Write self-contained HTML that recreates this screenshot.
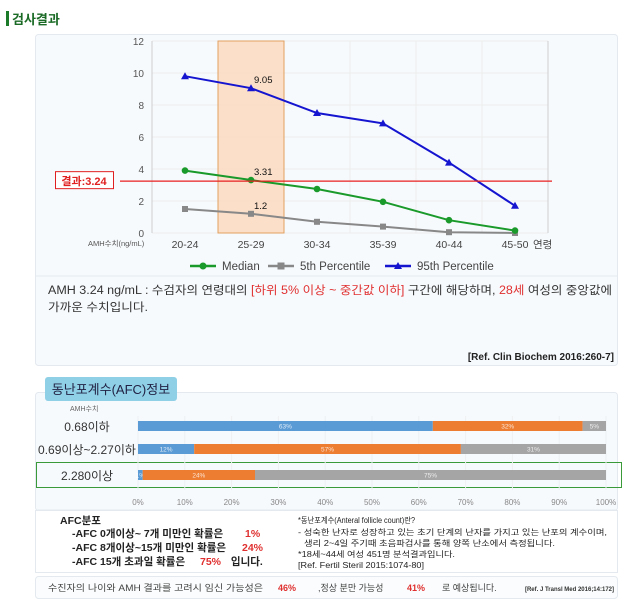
<!DOCTYPE html>
<html><head><meta charset="utf-8"><style>
body{margin:0;background:#fff;}
svg{display:block;font-family:"Liberation Sans","Noto Sans CJK KR",sans-serif;}
</style></head><body>
<svg width="631" height="607" viewBox="0 0 631 607">
<rect x="6" y="11" width="3" height="15" fill="#1a7a2a"/>
<text x="12" y="24" font-size="13" font-weight="bold" fill="#1a6a25">검사결과</text>
<rect x="35.5" y="34.5" width="582" height="331" fill="#f7fafd" stroke="#e3e9ef" rx="3"/>
<g id="chart"></g>
<line x1="36" y1="276" x2="617" y2="276" stroke="#e3e9ef"/>
<text x="48" y="294" font-size="11.5" fill="#333" textLength="564" lengthAdjust="spacingAndGlyphs">AMH  3.24 ng/mL : 수검자의 연령대의 <tspan fill="#e03030">[하위 5% 이상 ~ 중간값 이하]</tspan> 구간에 해당하며, <tspan fill="#e03030">28세</tspan> 여성의 중앙값에</text>
<text x="48" y="311" font-size="11.5" fill="#333" textLength="100" lengthAdjust="spacingAndGlyphs">가까운 수치입니다.</text>
<text x="614" y="360" font-size="10" font-weight="bold" fill="#222" text-anchor="end">[Ref. Clin Biochem 2016:260-7]</text>

<rect x="35.5" y="392.5" width="582" height="118" fill="#f7fafd" stroke="#e3e9ef" rx="3"/>
<rect x="45" y="377" width="132" height="24" fill="#8fd0e6" rx="3"/>
<text x="111" y="394" font-size="13" fill="#224" text-anchor="middle">동난포계수(AFC)정보</text>
<text x="70" y="411" font-size="7" fill="#666">AMH수치</text>
<rect x="36.5" y="462.5" width="585" height="25" fill="none" stroke="#3a9a3a"/>
<g id="bars"></g>
<line x1="36" y1="510" x2="617" y2="510" stroke="#e3e9ef"/>
<rect x="35.5" y="510.5" width="582" height="62" fill="#fff" stroke="#e3e9ef"/>
<g font-size="10.5" font-weight="bold" fill="#222">
<text x="60" y="524">AFC분포</text>
<text x="72" y="537">-AFC  0개이상~ 7개 미만인 확률은 <tspan x="245" fill="#e03030">1%</tspan></text>
<text x="72" y="551">-AFC  8개이상~15개 미만인 확률은 <tspan x="242" fill="#e03030">24%</tspan></text>
<text x="72" y="565">-AFC  15개 초과일 확률은 <tspan x="200" fill="#e03030">75%</tspan><tspan x="228"> 입니다.</tspan></text>
</g>
<g font-size="8" fill="#222">
<text x="298" y="523" textLength="117" lengthAdjust="spacingAndGlyphs">*동난포계수(Anteral follicle count)란?</text>
<text x="298" y="535" textLength="309" lengthAdjust="spacingAndGlyphs">- 성숙한 난자로 성장하고 있는 초기 단계의 난자를 가지고 있는 난포의 계수이며,</text>
<text x="304" y="546" textLength="251" lengthAdjust="spacingAndGlyphs">생리 2~4일 주기때 초음파검사를 통해 양쪽 난소에서 측정됩니다.</text>
<text x="298" y="557" textLength="157" lengthAdjust="spacingAndGlyphs">*18세~44세 여성 451명 분석결과입니다.</text>
<text x="298" y="568" textLength="126" lengthAdjust="spacingAndGlyphs">[Ref. Fertil Steril 2015:1074-80]</text>
</g>
<rect x="35.5" y="576.5" width="582" height="22" fill="#fafcfd" stroke="#e3e9ef" rx="3"/>
<text x="48" y="591" font-size="9" fill="#444"><tspan textLength="215" lengthAdjust="spacingAndGlyphs">수진자의  나이와 AMH 결과를 고려시 임신 가능성은</tspan><tspan x="278" fill="#e03030" font-weight="bold">46%</tspan><tspan x="318">,정상 분만 가능성</tspan><tspan x="407" fill="#e03030" font-weight="bold">41%</tspan><tspan x="442">로 예상됩니다.</tspan></text>
<text x="614" y="591" font-size="6" font-weight="bold" fill="#333" text-anchor="end">[Ref. J Transl Med 2016;14:172]</text>
</svg>
<script>
const categories=["20-24","25-29","30-34","35-39","40-44","45-50"];
const median=[3.9,3.31,2.75,1.95,0.8,0.15];
const p5=[1.5,1.2,0.7,0.4,0.05,0.0];
const p95=[9.8,9.05,7.5,6.85,4.4,1.7];
const yTicks=[0,2,4,6,8,10,12];
const resultValue=3.24;
const highlightIndex=1;
const afcRows=["0.68이하","0.69이상~2.27이하","2.280이상"];
const afcLow=[63,12,1];
const afcMid=[32,57,24];
const afcHigh=[5,31,75];
const pctTicks=[0,10,20,30,40,50,60,70,80,90,100];

const NS="http://www.w3.org/2000/svg";
function mk(p,t,a){const e=document.createElementNS(NS,t);for(const k in a)e.setAttribute(k,a[k]);p.appendChild(e);return e;}
const g=document.getElementById('chart');
const X0=152,X1=548,Y0=233,Y1=41;
const bw=(X1-X0)/categories.length;
const xs=i=>X0+bw*(i+0.5);
const ys=v=>Y0-(v/12)*(Y0-Y1);
yTicks.forEach(t=>{
 const l=mk(g,'line',{x1:X0,x2:X1,y1:ys(t),y2:ys(t),stroke:'#ececec'});
 
 
 const tx=mk(g,'text',{x:X0-8,y:ys(t)+4,'font-size':10,fill:'#555','text-anchor':'end'});tx.textContent=t;
 
 
});
for(let i=0;i<=categories.length;i++){
 const l=mk(g,'line',{x1:X0+bw*i,x2:X0+bw*i,y1:Y1,y2:Y0,stroke:i==0||i==categories.length?'#cfcfcf':'#ececec'});
 
 
}
const band=mk(g,'rect',{x:X0+bw*highlightIndex,y:Y1,width:bw,height:Y0-Y1,fill:'#fbd9c0','fill-opacity':0.85,stroke:'#e0a060'});


categories.forEach((c,i)=>{
 const t=mk(g,'text',{x:xs(i),y:248,'font-size':10.5,fill:'#444','text-anchor':'middle'});t.textContent=c;
 
 
});
let t=mk(g,'text',{x:88,y:246,'font-size':7.5,fill:'#555'});t.textContent='AMH수치(ng/mL)';


t=mk(g,'text',{x:533,y:248,'font-size':10.5,fill:'#444'});t.textContent='연령';


function series(vals,color,shape,name){
 const pl=mk(g,'polyline',{points:vals.map((v,i)=>xs(i)+','+ys(v)).join(' '),fill:'none',stroke:color,'stroke-width':2});
 
 
 vals.forEach((v,i)=>{
  let m;const x=xs(i),y=ys(v);
  if(shape=='c')m=mk(g,'circle',{cx:x,cy:y,r:3.3,fill:color});
  else if(shape=='s')m=mk(g,'rect',{x:x-3,y:y-3,width:6,height:6,fill:color});
  else m=mk(g,'polygon',{points:`${x},${y-4} ${x-4},${y+3} ${x+4},${y+3}`,fill:color});
  
  
 });
}
series(p5,'#888','s','p5');series(median,'#1a9a2a','c','median');series(p95,'#1515d0','t','p95');
[p95,median,p5].forEach(a=>{
 const v=a[highlightIndex];const tx=mk(g,'text',{x:xs(highlightIndex)+3,y:ys(v)-5,'font-size':9.5,fill:'#111'});tx.textContent=v;
 
 
});
const rl=mk(g,'line',{x1:120,x2:552,y1:ys(resultValue),y2:ys(resultValue),stroke:'#e82020','stroke-width':1.2});


const rb=mk(g,'rect',{x:55.5,y:ys(resultValue)-9.5,width:58,height:17,fill:'#fff',stroke:'#e02020'});


t=mk(g,'text',{x:84,y:ys(resultValue)+4,'font-size':11,'font-weight':'bold',fill:'#e02020','text-anchor':'middle'});t.textContent='결과:'+resultValue;


[[190,'#1a9a2a','c','Median'],[268,'#888','s','5th Percentile'],[385,'#1515d0','t','95th Percentile']].forEach(([x,c,s,l])=>{
 const y=266;
 const ln=mk(g,'line',{x1:x,x2:x+26,y1:y,y2:y,stroke:c,'stroke-width':2.5});
 
 
 const cx=x+13;
 if(s=='c')mk(g,'circle',{cx:cx,cy:y,r:3.5,fill:c});else if(s=='s')mk(g,'rect',{x:cx-3.5,y:y-3.5,width:7,height:7,fill:c});else mk(g,'polygon',{points:`${cx},${y-4} ${cx-4},${y+3} ${cx+4},${y+3}`,fill:c});
 const tx=mk(g,'text',{x:x+32,y:y+4,'font-size':11.5,fill:'#444'});tx.textContent=l;
 
 
});
const b=document.getElementById('bars');
const BX0=138,BX1=606;const bx=p=>BX0+(BX1-BX0)*p/100;
const rowY=[426,449,475];
pctTicks.forEach(p=>{
 const l=mk(b,'line',{x1:bx(p),x2:bx(p),y1:416,y2:490,stroke:'#eef0f2'});
 
 
 const tx=mk(b,'text',{x:bx(p),y:505,'font-size':8,fill:'#888','text-anchor':'middle'});tx.textContent=p+'%';
 
 
});
afcRows.forEach((r,i)=>{
 const y=rowY[i];
 const lb=mk(b,'text',{x:87,y:y+5,'font-size':12,fill:'#333','text-anchor':'middle'});lb.textContent=r;
 
 
 let s=0;
 [[afcLow[i],'#5b9bd5'],[afcMid[i],'#ed7d31'],[afcHigh[i],'#a5a5a5']].forEach(([v,c])=>{
  const rc=mk(b,'rect',{x:bx(s),y:y-5,width:bx(s+v)-bx(s),height:10,fill:c});
  
  
  const tx=mk(b,'text',{x:(bx(s)+bx(s+v))/2,y:y+2.5,'font-size':6.5,fill:'#fff','fill-opacity':0.8,'text-anchor':'middle'});tx.textContent=v+'%';
  
  
  s+=v;
 });
});
</script>
</body></html>
